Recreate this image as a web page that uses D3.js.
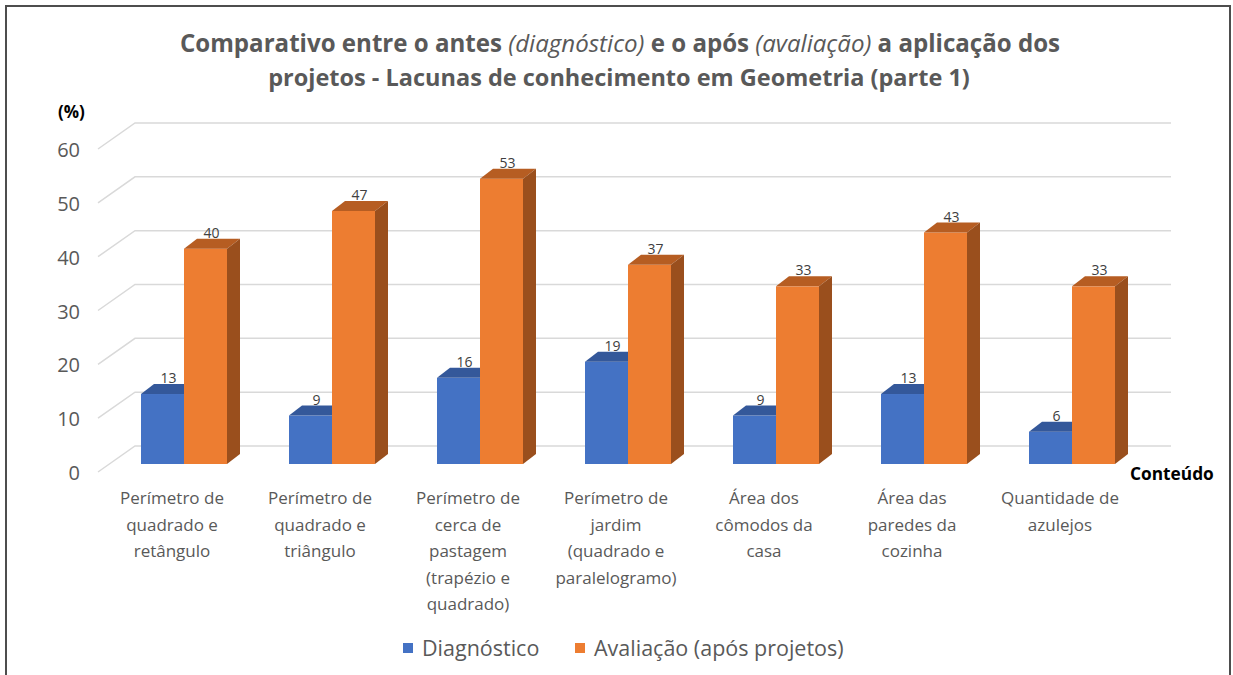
<!DOCTYPE html>
<html>
<head>
<meta charset="utf-8">
<script src="https://cdn.jsdelivr.net/npm/d3@7"></script>
<style>
  html, body { margin: 0; padding: 0; background: #fff; }
  svg { display: block; }
</style>
</head>
<body>
<svg id="chart" width="1233" height="675"></svg>
<script>
// ---- data ----
const categories = [
  ["Perímetro de", "quadrado e", "retângulo"],
  ["Perímetro de", "quadrado e", "triângulo"],
  ["Perímetro de", "cerca de", "pastagem", "(trapézio e", "quadrado)"],
  ["Perímetro de", "jardim", "(quadrado e", "paralelogramo)"],
  ["Área dos", "cômodos da", "casa"],
  ["Área das", "paredes da", "cozinha"],
  ["Quantidade de", "azulejos"]
];
const seriesNames = ["Diagnóstico", "Avaliação (após projetos)"];
const diagnostico = [13, 9, 16, 19, 9, 13, 6];
const avaliacao = [40, 47, 53, 37, 33, 43, 33];
const yTicks = [0, 10, 20, 30, 40, 50, 60];

// ---- styling ----
const colors = {
  front: ["#4472C4", "#ED7D31"],
  top:   ["#34589A", "#B65D22"],
  side:  ["#2C4B83", "#9A4F1D"]
};
const gridColor = "#D9D9D9";
const textGray = "#595959";
const font = "'Open Sans', 'Noto Sans', sans-serif";

const svg = d3.select("#chart");
const keys = categories.map((c, i) => "c" + i);
const values = [diagnostico, avaliacao];

// front plane of the 3D box
const x = d3.scaleBand().domain(keys).range([98, 1134]).padding(0);
const y = d3.scaleLinear().domain([0, 60]).range([472, 149]);
const x1 = d3.scaleBand().domain([0, 1]).range([31, 117]).padding(0);

// depth offsets
const wall = { dx: 37, dy: -26 };   // back wall
const barPlane = { dx: 12, dy: -8 }; // where bars stand
const barDepth = { dx: 13, dy: -10 };

// outer frame
svg.append("path")
  .attr("d", "M6,675 L6,6 L1230,6 L1230,675")
  .attr("fill", "none")
  .attr("stroke", "#4d4d4d")
  .attr("stroke-width", 2);

// title
const title = svg.append("g")
  .attr("font-family", font)
  .attr("fill", textGray)
  .attr("text-anchor", "middle");
const t1 = title.append("text").attr("x", 620).attr("y", 52).attr("font-size", 24.1);
t1.append("tspan").attr("font-weight", "bold").text("Comparativo entre o antes ");
t1.append("tspan").attr("font-style", "italic").text("(diagnóstico)");
t1.append("tspan").attr("font-weight", "bold").text(" e o após ");
t1.append("tspan").attr("font-style", "italic").text("(avaliação)");
t1.append("tspan").attr("font-weight", "bold").text(" a aplicação dos");
title.append("text").attr("x", 619).attr("y", 86)
  .attr("font-size", 23.5)
  .attr("font-weight", "bold")
  .text("projetos - Lacunas de conhecimento em Geometria (parte 1)");

// gridlines: diagonal on side wall + horizontal on back wall
const x0 = x.range()[0], xEnd = x.range()[1];
svg.append("g").selectAll("path").data(yTicks).join("path")
  .attr("d", t => `M${x0},${y(t)} L${x0 + wall.dx},${y(t) + wall.dy} L${xEnd + wall.dx},${y(t) + wall.dy}`)
  .attr("fill", "none")
  .attr("stroke", gridColor)
  .attr("stroke-width", 1.5);

// y tick labels
svg.append("g").selectAll("text").data(yTicks).join("text")
  .attr("x", 80)
  .attr("y", t => y(t) + 1)
  .attr("dy", "0.35em")
  .attr("text-anchor", "end")
  .attr("font-family", font)
  .attr("font-size", 20)
  .attr("fill", textGray)
  .text(t => t);

svg.append("text")
  .attr("x", 58).attr("y", 112).attr("dy", "0.35em")
  .attr("font-family", font)
  .attr("font-weight", "bold")
  .attr("font-size", 17)
  .attr("fill", "#000")
  .text("(%)");

// bars
const bars = [];
keys.forEach((k, i) => {
  [0, 1].forEach(s => {
    bars.push({ key: k, s, v: values[s][i] });
  });
});

const barG = svg.append("g");
const w = x1.bandwidth();
bars.forEach(b => {
  const bx = x(b.key) + x1(b.s) + barPlane.dx;
  const yt = y(b.v) + barPlane.dy;
  const yb = y(0) + barPlane.dy;
  const g = barG.append("g");
  // front face
  g.append("rect")
    .attr("x", bx).attr("y", yt)
    .attr("width", w).attr("height", yb - yt)
    .attr("fill", colors.front[b.s]);
  // top face
  g.append("path")
    .attr("d", `M${bx},${yt} L${bx + barDepth.dx},${yt + barDepth.dy} L${bx + w + barDepth.dx},${yt + barDepth.dy} L${bx + w},${yt} Z`)
    .attr("fill", colors.top[b.s]);
  // side face
  g.append("path")
    .attr("d", `M${bx + w},${yt} L${bx + w + barDepth.dx},${yt + barDepth.dy} L${bx + w + barDepth.dx},${yb + barDepth.dy} L${bx + w},${yb} Z`)
    .attr("fill", colors.side[b.s]);
  // value label
  g.append("text")
    .attr("x", bx + w / 2 + 6)
    .attr("y", yt - 11)
    .attr("text-anchor", "middle")
    .attr("font-family", font)
    .attr("font-size", 14)
    .attr("fill", "#404040")
    .text(b.v);
});

// category labels
const catG = svg.append("g")
  .attr("font-family", font)
  .attr("font-size", 17)
  .attr("fill", textGray)
  .attr("text-anchor", "middle");
categories.forEach((lines, i) => {
  const cx = x(keys[i]) + x.bandwidth() / 2;
  const t = catG.append("text").attr("x", cx).attr("y", 504);
  lines.forEach((ln, j) => {
    t.append("tspan")
      .attr("x", cx)
      .attr("dy", j === 0 ? 0 : 26.5)
      .text(ln);
  });
});

// axis title
svg.append("text")
  .attr("x", 1130).attr("y", 474).attr("dy", "0.35em")
  .attr("font-family", font)
  .attr("font-weight", "bold")
  .attr("font-size", 17.3)
  .attr("fill", "#000")
  .text("Conteúdo");

// legend
const legend = svg.append("g")
  .attr("font-family", font)
  .attr("font-size", 21.5)
  .attr("fill", textGray);
const legendX = [403, 575];
seriesNames.forEach((name, s) => {
  legend.append("rect")
    .attr("x", legendX[s]).attr("y", 643)
    .attr("width", 10).attr("height", 10)
    .attr("fill", colors.front[s]);
  legend.append("text")
    .attr("x", legendX[s] + 19).attr("y", 648).attr("dy", "0.35em")
    .text(name);
});
</script>
</body>
</html>
